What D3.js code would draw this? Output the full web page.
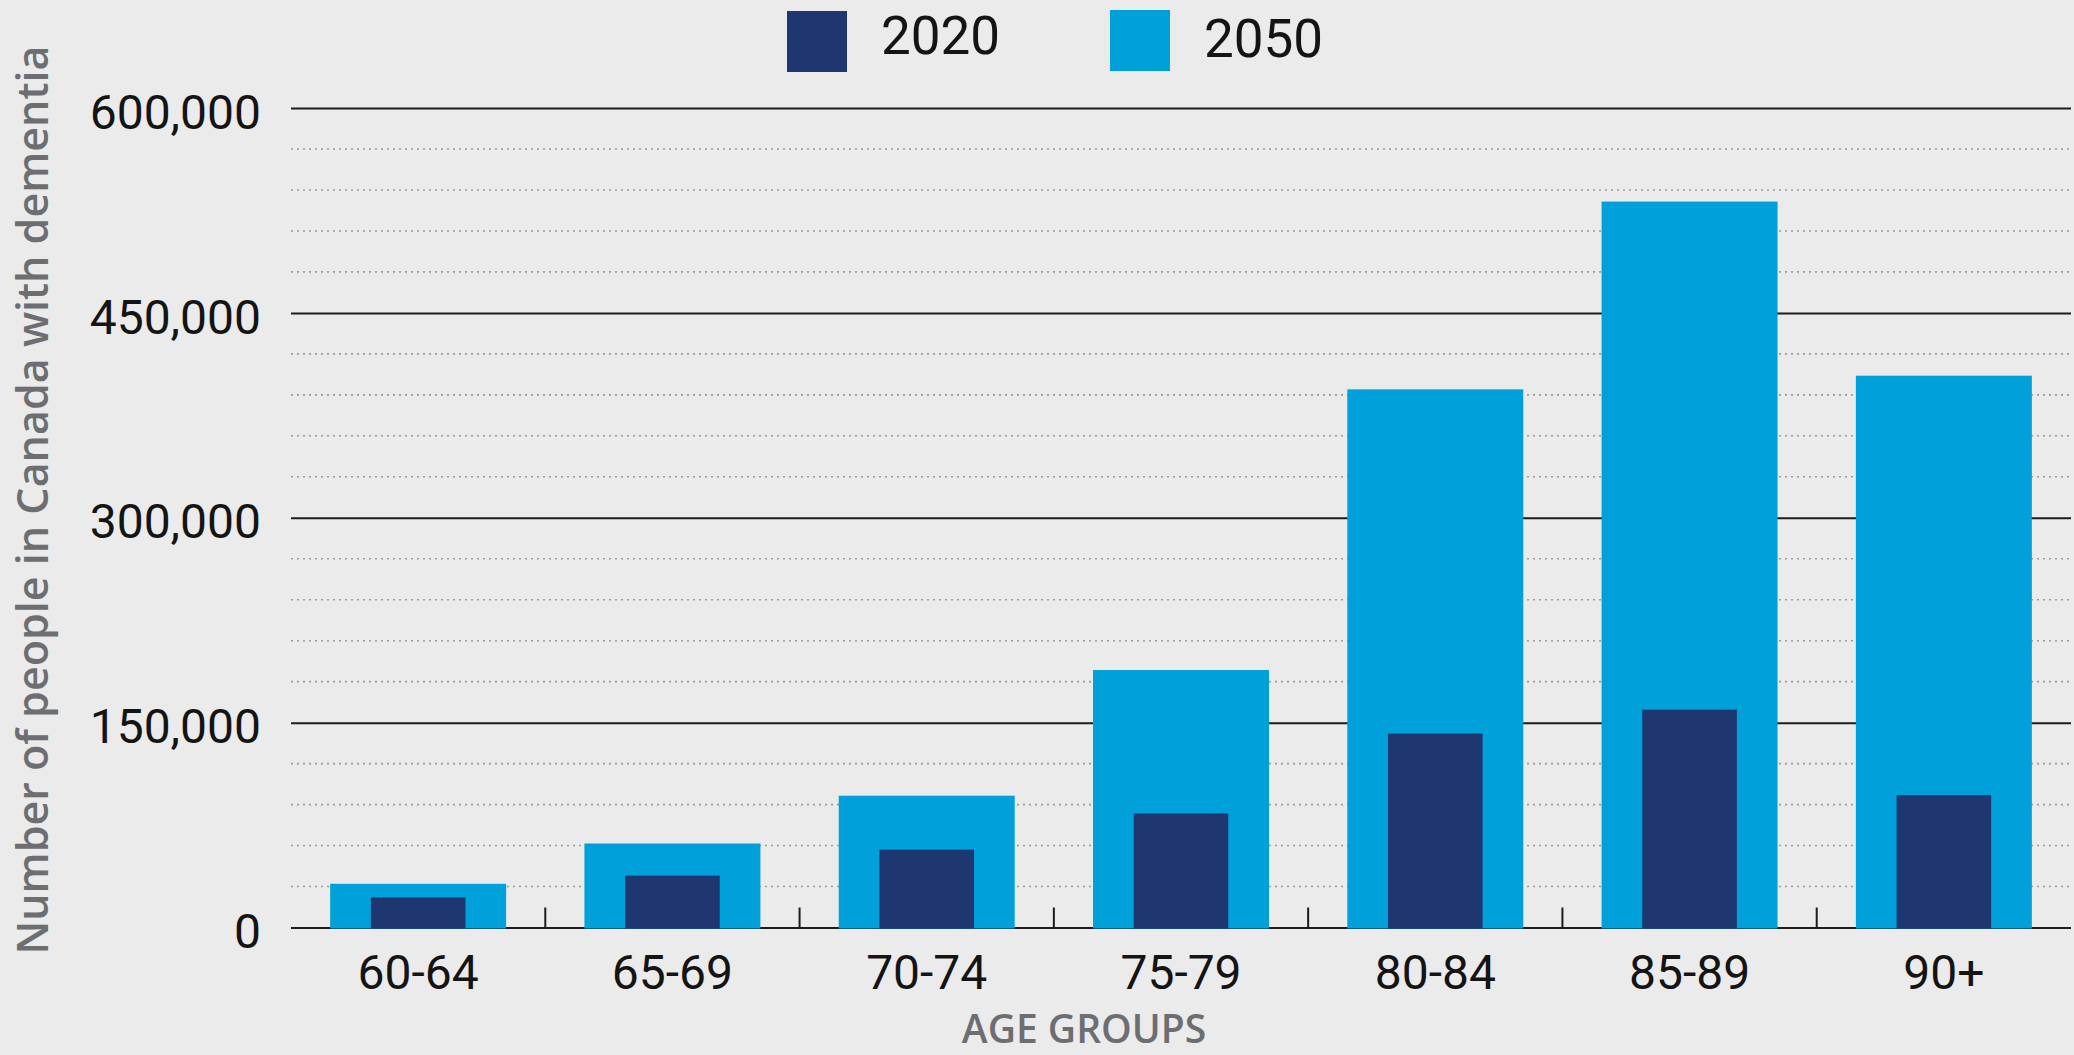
<!DOCTYPE html>
<html>
<head>
<meta charset="utf-8">
<script src="https://cdn.jsdelivr.net/npm/d3@7"></script>
<style>
  html, body { margin: 0; padding: 0; background: #ebebeb; }
  svg { display: block; }
</style>
</head>
<body>
<svg id="chart" width="2074" height="1055"></svg>
<script>
// ---- data ----
const categories = ["60-64", "65-69", "70-74", "75-79", "80-84", "85-89", "90+"];
const values2020 = [22000, 38000, 57000, 83500, 142000, 159500, 97000];
const values2050 = [32000, 61500, 96500, 188500, 394000, 531500, 404000];
const seriesNames = ["2020", "2050"];
const yTickValues = [0, 150000, 300000, 450000, 600000];
const yMinorTickValues = [30000, 60000, 90000, 120000, 180000, 210000, 240000, 270000,
                          330000, 360000, 390000, 420000, 480000, 510000, 540000, 570000];
const xTitle = "AGE GROUPS";
const yTitle = "Number of people in Canada with dementia";

// ---- layout ----
const W = 2074, H = 1055;
const plot = { left: 291, right: 2071, top: 108, bottom: 927.5 };
const colors = { "2020": "#1e3770", "2050": "#00a0db" };

const svg = d3.select("#chart");
svg.append("rect").attr("width", W).attr("height", H).attr("fill", "#ebebeb");

const x = d3.scaleBand().domain(categories).range([plot.left, plot.right]).padding(0);
const y = d3.scaleLinear().domain([0, 600000]).range([plot.bottom, plot.top]);

// minor dotted gridlines
svg.append("g")
  .selectAll("line").data(yMinorTickValues).join("line")
  .attr("x1", plot.left).attr("x2", plot.right)
  .attr("y1", d => y(d)).attr("y2", d => y(d))
  .attr("stroke", "#9b9b9b").attr("stroke-width", 1.6)
  .attr("stroke-dasharray", "2,4");

// major gridlines + y tick labels via axis
const yAxis = d3.axisLeft(y)
  .tickValues(yTickValues)
  .tickFormat(d3.format(","))
  .tickSize(-(plot.right - plot.left))
  .tickPadding(30);
const gy = svg.append("g").attr("transform", `translate(${plot.left},0)`).call(yAxis);
gy.select(".domain").remove();
gy.selectAll(".tick line").attr("stroke", "#1c1c1c").attr("stroke-width", 2);
gy.selectAll(".tick text")
  .attr("font-family", "Roboto, 'Noto Sans', sans-serif")
  .attr("font-size", 48)
  .attr("fill", "#141414")
  .attr("dy", "0.42em");

// category boundary ticks (upward from baseline)
const boundaries = categories.slice(1).map(c => x(c));
svg.append("g")
  .selectAll("line").data(boundaries).join("line")
  .attr("x1", d => d).attr("x2", d => d)
  .attr("y1", plot.bottom).attr("y2", plot.bottom - 20)
  .attr("stroke", "#1c1c1c").attr("stroke-width", 2);

// bars 2050 (wide, behind)
const w2050 = x.bandwidth() * 0.692;
const w2020 = x.bandwidth() * 0.372;
svg.append("g")
  .selectAll("rect").data(categories).join("rect")
  .attr("x", (c) => x(c) + (x.bandwidth() - w2050) / 2)
  .attr("width", w2050)
  .attr("y", (c, i) => y(values2050[i]))
  .attr("height", (c, i) => y(0) - y(values2050[i]) + 1)
  .attr("fill", colors["2050"]);

// bars 2020 (narrow, in front)
svg.append("g")
  .selectAll("rect").data(categories).join("rect")
  .attr("x", (c) => x(c) + (x.bandwidth() - w2020) / 2)
  .attr("width", w2020)
  .attr("y", (c, i) => y(values2020[i]))
  .attr("height", (c, i) => y(0) - y(values2020[i]) + 1)
  .attr("fill", colors["2020"]);

// x axis labels
const xAxis = d3.axisBottom(x).tickSize(0).tickPadding(0);
const gx = svg.append("g").attr("transform", `translate(0,${plot.bottom})`).call(xAxis);
gx.select(".domain").remove();
gx.selectAll(".tick text")
  .attr("font-family", "Roboto, 'Noto Sans', sans-serif")
  .attr("font-size", 48)
  .attr("fill", "#141414")
  .attr("dy", null)
  .attr("y", 61.5);

// axis titles
svg.append("text")
  .attr("x", 1084).attr("y", 1043)
  .attr("text-anchor", "middle")
  .attr("font-family", "'Open Sans', 'Noto Sans', sans-serif")
  .attr("font-weight", 600)
  .attr("font-size", 39)
  .attr("fill", "#6d6e71")
  .text(xTitle);

svg.append("text")
  .attr("transform", "translate(48,500) rotate(-90)")
  .attr("text-anchor", "middle")
  .attr("font-family", "'Open Sans', 'Noto Sans', sans-serif")
  .attr("font-weight", 600)
  .attr("font-size", 44)
  .attr("fill", "#6d6e71")
  .attr("textLength", 909)
  .attr("lengthAdjust", "spacingAndGlyphs")
  .text(yTitle);

// legend
const legendPos = [
  { sx: 787, sy: 11, tx: 881, ty: 54 },
  { sx: 1110, sy: 10, tx: 1204, ty: 57 }
];
const lg = svg.append("g");
seriesNames.forEach((name, i) => {
  const p = legendPos[i];
  lg.append("rect").attr("x", p.sx).attr("y", p.sy).attr("width", 60).attr("height", 61)
    .attr("fill", colors[name]);
  lg.append("text").attr("x", p.tx).attr("y", p.ty)
    .attr("font-family", "Roboto, 'Noto Sans', sans-serif")
    .attr("font-size", 53)
    .attr("fill", "#141414")
    .text(name);
});
</script>
</body>
</html>
